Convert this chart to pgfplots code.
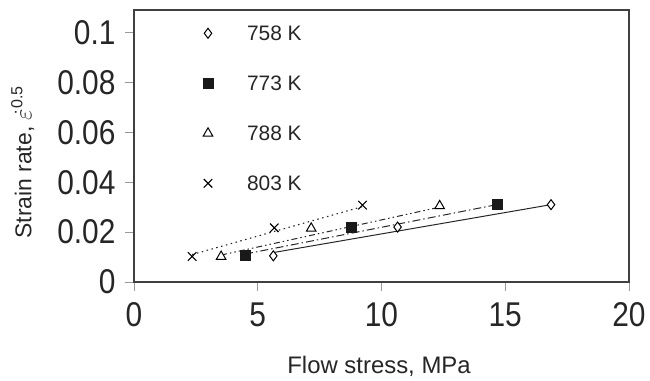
\documentclass[border=0pt]{standalone}
\usepackage{pgfplots}
\pgfplotsset{compat=1.18}
\usepackage{fontspec}
\setmainfont{Liberation Sans}
\definecolor{txt}{HTML}{262626}
\newcommand{\tl}[1]{\scalebox{1}[1.15]{#1}}
\begin{document}
\begin{tikzpicture}
\begin{axis}[
  at={(0,0)}, anchor=south west,
  scale only axis, width=495bp, height=272bp,
  xmin=0, xmax=20, ymin=0, ymax=0.109,
  xtick={0,5,10,15,20},
  xticklabels={\tl{0},\tl{5},\tl{10},\tl{15},\tl{20}},
  ytick={0,0.02,0.04,0.06,0.08,0.1},
  yticklabels={\tl{0},\tl{0.02},\tl{0.04},\tl{0.06},\tl{0.08},\tl{0.1}},
  scaled ticks=false,
  tick align=outside, tick pos=left, major tick length=9bp,
  every tick/.style={black!40, line width=0.8pt},
  axis line style={black!75, line width=1.2pt},
  /pgf/number format/assume math mode=true,
  ticklabel style={font=\fontsize{30}{30}\selectfont, text=txt},
  xticklabel style={anchor=base, yshift=-35bp},
  yticklabel style={anchor=east, xshift=-6bp},
  xlabel={Flow stress, MPa},
  ylabel={Strain rate, $\dot{\varepsilon}$\textsuperscript{0.5}},
  xlabel style={font=\fontsize{24}{24}\selectfont, text=txt, at={(axis description cs:0.495,-0.335)}, anchor=base},
  ylabel style={font=\fontsize{23}{23}\selectfont, text=txt, at={(axis description cs:-0.225,0.44)}, anchor=center},
  legend style={at={(axis description cs:0.133,0.950)}, anchor=north west,
    draw=none, fill=none, font=\fontsize{21}{21}\selectfont, text=txt,
    row sep=35bp, nodes={inner sep=0pt, text height=15bp, text depth=0bp},
    /tikz/every odd column/.append style={column sep=34bp}},
  legend image code/.code={\draw[#1] plot coordinates {(0bp,0bp)};},
]
% trend lines
\addplot[forget plot, black!85, line width=1pt] coordinates {(5.63,0.0118) (16.85,0.0310)};
\addplot[forget plot, black!85, line width=1pt, dash pattern=on 8bp off 3bp on 1.5bp off 3bp] coordinates {(4.49,0.0112) (14.66,0.0310)};
\addplot[forget plot, black!85, line width=1pt, dash pattern=on 6bp off 3bp on 1.5bp off 3bp on 1.5bp off 3bp] coordinates {(3.52,0.0108) (12.35,0.0300)};
\addplot[forget plot, black!85, line width=1.1pt, dash pattern=on 1.5bp off 3.5bp] coordinates {(2.35,0.0110) (9.23,0.0302)};
% data
\addplot[only marks, mark=diamond*, mark size=5bp, black, mark options={fill=white, line width=1pt}] coordinates {(5.63,0.0105) (10.65,0.0220) (16.85,0.0310)};
\addlegendentry{758 K}
\addplot[only marks, mark=square*, mark size=5bp, black!90, mark options={fill=black!90, line width=0.5pt}] coordinates {(4.49,0.0108) (8.79,0.0220) (14.66,0.0310)};
\addlegendentry{773 K}
\addplot[only marks, mark=triangle*, mark size=5.5bp, black, mark options={fill=white, line width=1pt}] coordinates {(3.52,0.0102) (7.16,0.0215) (12.35,0.0305)};
\addlegendentry{788 K}
\addplot[only marks, mark=x, mark size=6bp, black, mark options={line width=1.1pt}] coordinates {(2.35,0.0102) (5.67,0.0217) (9.23,0.0308)};
\addlegendentry{803 K}
\end{axis}
\pgfresetboundingbox
\path (-134bp,-99bp) rectangle (516bp,282bp);
\end{tikzpicture}
\end{document}
